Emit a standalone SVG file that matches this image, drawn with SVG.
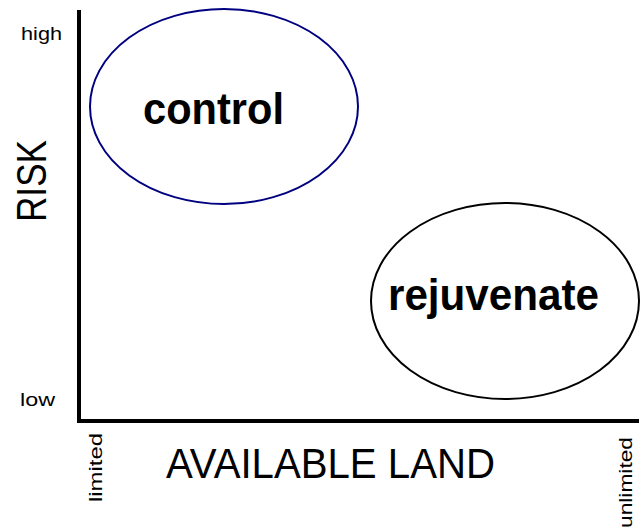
<svg xmlns="http://www.w3.org/2000/svg" width="641" height="529" viewBox="0 0 641 529">
<style>
.ax{stroke:#000;stroke-width:4;fill:none}
.lbl{font-family:"Liberation Sans",Arial,sans-serif;fill:#000}
.big{font-family:"Liberation Sans",Arial,sans-serif;font-weight:bold;fill:#000}
.ell{fill:none;stroke-width:2}
</style>
<rect width="641" height="529" fill="#fff"/>
<g id="axes">
<polyline class="ax" points="79,10 79,421 639,421"/>
</g>
<g id="labels">
<text class="lbl" x="21" y="40" font-size="19" textLength="41" lengthAdjust="spacingAndGlyphs">high</text>
<text class="lbl" x="20" y="406" font-size="19" textLength="35" lengthAdjust="spacingAndGlyphs">low</text>
<text class="lbl" transform="translate(102,502) rotate(-90)" font-size="19" textLength="69" lengthAdjust="spacingAndGlyphs">limited</text>
<text class="lbl" transform="translate(632,528) rotate(-90)" font-size="19" textLength="91" lengthAdjust="spacingAndGlyphs">unlimited</text>
<text class="lbl" x="166" y="478" font-size="43" textLength="329" lengthAdjust="spacingAndGlyphs">AVAILABLE LAND</text>
<text class="lbl" transform="translate(46,222) rotate(-90)" font-size="43" textLength="82" lengthAdjust="spacingAndGlyphs">RISK</text>
</g>
<g id="control">
<ellipse class="ell" cx="224" cy="106.5" rx="134" ry="97.5" stroke="#000080"/>
<text class="big" x="143" y="124" font-size="44" textLength="141" lengthAdjust="spacingAndGlyphs">control</text>
</g>
<g id="rejuvenate">
<ellipse class="ell" cx="505" cy="301" rx="134" ry="98" stroke="#000"/>
<text class="big" x="388" y="310" font-size="44" textLength="211" lengthAdjust="spacingAndGlyphs">rejuvenate</text>
</g>
</svg>
